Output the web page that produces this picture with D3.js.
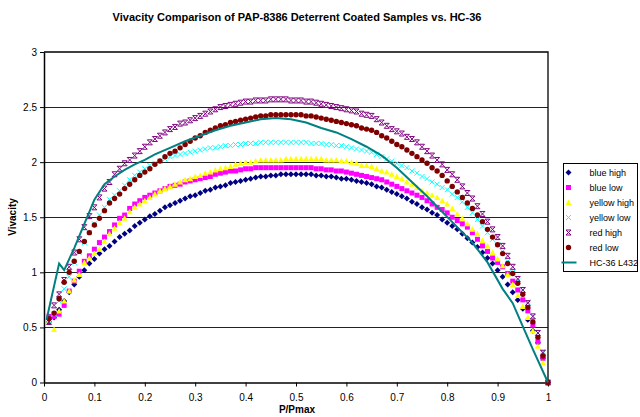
<!DOCTYPE html>
<html>
<head>
<meta charset="utf-8">
<script src="https://cdn.jsdelivr.net/npm/d3@7"></script>
<style>
	body { margin: 0; background: #fff; }
	text { font-family: "Liberation Sans", Arial, sans-serif; }
</style>
</head>
<body>
<script>
// P/Pmax sample points
let xVals = [0.01, 0.02, 0.03, 0.04, 0.05, 0.06, 0.07, 0.08, 0.09, 0.10,
	0.11, 0.12, 0.13, 0.14, 0.15, 0.16, 0.17, 0.18, 0.19, 0.20,
	0.21, 0.22, 0.23, 0.24, 0.25, 0.26, 0.27, 0.28, 0.29, 0.30,
	0.31, 0.32, 0.33, 0.34, 0.35, 0.36, 0.37, 0.38, 0.39, 0.40,
	0.41, 0.42, 0.43, 0.44, 0.45, 0.46, 0.47, 0.48, 0.49, 0.50,
	0.51, 0.52, 0.53, 0.54, 0.55, 0.56, 0.57, 0.58, 0.59, 0.60,
	0.61, 0.62, 0.63, 0.64, 0.65, 0.66, 0.67, 0.68, 0.69, 0.70,
	0.71, 0.72, 0.73, 0.74, 0.75, 0.76, 0.77, 0.78, 0.79, 0.80,
	0.81, 0.82, 0.83, 0.84, 0.85, 0.86, 0.87, 0.88, 0.89, 0.90,
	0.91, 0.92, 0.93, 0.94, 0.95, 0.96, 0.97, 0.98, 0.99, 1.00];

let blueHigh = [0.55, 0.59, 0.66, 0.74, 0.82, 0.89, 0.96, 1.02, 1.08, 1.12,
	1.17, 1.21, 1.24, 1.28, 1.32, 1.35, 1.38, 1.42, 1.45, 1.48,
	1.51, 1.53, 1.56, 1.59, 1.61, 1.63, 1.65, 1.67, 1.69, 1.70,
	1.72, 1.74, 1.75, 1.77, 1.78, 1.79, 1.81, 1.82, 1.83, 1.84,
	1.85, 1.86, 1.87, 1.87, 1.88, 1.88, 1.89, 1.89, 1.89, 1.89,
	1.89, 1.89, 1.89, 1.88, 1.88, 1.87, 1.87, 1.86, 1.85, 1.85,
	1.84, 1.83, 1.82, 1.81, 1.80, 1.78, 1.77, 1.75, 1.73, 1.71,
	1.69, 1.67, 1.64, 1.62, 1.59, 1.57, 1.54, 1.52, 1.48, 1.45,
	1.42, 1.39, 1.35, 1.31, 1.27, 1.23, 1.18, 1.13, 1.08, 1.02,
	0.96, 0.89, 0.82, 0.75, 0.67, 0.57, 0.47, 0.36, 0.22, 0];

let blueLow = [0.60, 0.60, 0.62, 0.70, 0.83, 0.92, 1.01, 1.10, 1.15, 1.21,
	1.27, 1.32, 1.37, 1.43, 1.49, 1.52, 1.58, 1.62, 1.65, 1.68,
	1.70, 1.72, 1.74, 1.76, 1.78, 1.79, 1.80, 1.82, 1.83, 1.84,
	1.85, 1.86, 1.87, 1.89, 1.90, 1.91, 1.92, 1.92, 1.93, 1.94,
	1.94, 1.95, 1.95, 1.95, 1.95, 1.95, 1.95, 1.95, 1.95, 1.95,
	1.95, 1.95, 1.95, 1.94, 1.94, 1.93, 1.93, 1.92, 1.92, 1.91,
	1.90, 1.89, 1.88, 1.87, 1.86, 1.85, 1.84, 1.82, 1.80, 1.78,
	1.76, 1.74, 1.72, 1.70, 1.68, 1.65, 1.62, 1.59, 1.57, 1.54,
	1.50, 1.47, 1.44, 1.41, 1.36, 1.30, 1.24, 1.19, 1.13, 1.09,
	1.05, 0.99, 0.92, 0.84, 0.75, 0.65, 0.52, 0.37, 0.22, 0];

let yellowHigh = [0.56, 0.48, 0.65, 0.74, 0.83, 0.93, 0.98, 1.09, 1.13, 1.17,
	1.21, 1.28, 1.35, 1.40, 1.45, 1.49, 1.55, 1.59, 1.62, 1.65,
	1.68, 1.71, 1.74, 1.76, 1.78, 1.80, 1.82, 1.84, 1.85, 1.87,
	1.88, 1.90, 1.91, 1.93, 1.94, 1.95, 1.96, 1.98, 1.99, 2.00,
	2.00, 2.01, 2.02, 2.02, 2.02, 2.02, 2.02, 2.03, 2.03, 2.03,
	2.03, 2.03, 2.03, 2.03, 2.03, 2.02, 2.02, 2.02, 2.01, 2.01,
	2.00, 1.99, 1.97, 1.97, 1.96, 1.94, 1.92, 1.91, 1.89, 1.87,
	1.85, 1.82, 1.80, 1.77, 1.74, 1.72, 1.70, 1.68, 1.65, 1.62,
	1.58, 1.53, 1.49, 1.44, 1.39, 1.35, 1.29, 1.24, 1.18, 1.12,
	1.06, 0.98, 0.89, 0.79, 0.69, 0.59, 0.47, 0.33, 0.18, 0];

let yellowLow = [0.56, 0.62, 0.74, 0.85, 0.96, 1.09, 1.18, 1.27, 1.36, 1.44,
	1.52, 1.59, 1.66, 1.70, 1.74, 1.79, 1.84, 1.88, 1.91, 1.94,
	1.97, 1.99, 2.01, 2.03, 2.05, 2.06, 2.07, 2.08, 2.09, 2.10,
	2.11, 2.12, 2.13, 2.13, 2.14, 2.15, 2.15, 2.16, 2.16, 2.17,
	2.17, 2.17, 2.18, 2.18, 2.18, 2.18, 2.18, 2.18, 2.18, 2.18,
	2.18, 2.18, 2.17, 2.17, 2.17, 2.16, 2.16, 2.15, 2.15, 2.14,
	2.13, 2.12, 2.11, 2.10, 2.09, 2.07, 2.05, 2.03, 2.01, 1.99,
	1.97, 1.95, 1.92, 1.90, 1.87, 1.85, 1.82, 1.80, 1.77, 1.75,
	1.71, 1.68, 1.64, 1.59, 1.54, 1.48, 1.42, 1.36, 1.30, 1.25,
	1.19, 1.10, 1.00, 0.92, 0.84, 0.73, 0.60, 0.45, 0.28, 0];

let redHigh = [0.55, 0.70, 0.80, 0.93, 1.05, 1.18, 1.30, 1.41, 1.51, 1.59,
	1.68, 1.76, 1.82, 1.89, 1.94, 1.99, 2.02, 2.06, 2.10, 2.14,
	2.18, 2.21, 2.24, 2.27, 2.30, 2.32, 2.35, 2.36, 2.38, 2.40,
	2.42, 2.44, 2.46, 2.48, 2.50, 2.51, 2.52, 2.53, 2.54, 2.55,
	2.55, 2.56, 2.56, 2.56, 2.57, 2.57, 2.57, 2.57, 2.56, 2.56,
	2.56, 2.55, 2.55, 2.54, 2.53, 2.52, 2.51, 2.50, 2.49, 2.48,
	2.47, 2.46, 2.44, 2.43, 2.42, 2.39, 2.36, 2.33, 2.30, 2.28,
	2.26, 2.23, 2.21, 2.18, 2.14, 2.10, 2.06, 2.02, 1.98, 1.93,
	1.89, 1.84, 1.78, 1.72, 1.67, 1.60, 1.53, 1.46, 1.39, 1.32,
	1.24, 1.15, 1.05, 0.94, 0.84, 0.72, 0.60, 0.45, 0.27, 0];

let redLow = [0.58, 0.63, 0.76, 0.91, 1.00, 1.10, 1.19, 1.28, 1.36, 1.43,
	1.49, 1.56, 1.63, 1.67, 1.71, 1.76, 1.80, 1.84, 1.88, 1.91,
	1.94, 1.98, 2.01, 2.05, 2.08, 2.10, 2.13, 2.16, 2.19, 2.22,
	2.24, 2.27, 2.29, 2.31, 2.33, 2.34, 2.36, 2.37, 2.38, 2.39,
	2.40, 2.41, 2.42, 2.42, 2.43, 2.43, 2.43, 2.43, 2.43, 2.43,
	2.43, 2.42, 2.42, 2.41, 2.40, 2.39, 2.38, 2.37, 2.36, 2.35,
	2.34, 2.33, 2.31, 2.30, 2.29, 2.27, 2.24, 2.22, 2.19, 2.16,
	2.14, 2.11, 2.08, 2.05, 2.02, 1.99, 1.95, 1.92, 1.88, 1.83,
	1.78, 1.73, 1.68, 1.63, 1.58, 1.52, 1.46, 1.39, 1.32, 1.25,
	1.17, 1.08, 0.99, 0.90, 0.80, 0.68, 0.55, 0.41, 0.24, 0];

// HC-36 L432 reference curve
let hcX = [0.005, 0.03, 0.04, 0.06, 0.08, 0.10, 0.12, 0.14, 0.16, 0.18,
	0.20, 0.22, 0.25, 0.28, 0.31, 0.34, 0.37, 0.40, 0.43, 0.46,
	0.49, 0.52, 0.55, 0.58, 0.61, 0.64, 0.67, 0.70, 0.73, 0.76,
	0.79, 0.82, 0.85, 0.88, 0.91, 0.93, 0.95, 0.97, 1.00];
let hcY = [0.57, 1.08, 1.02, 1.22, 1.44, 1.66, 1.80, 1.87, 1.93, 1.98,
	2.02, 2.07, 2.13, 2.19, 2.24, 2.29, 2.33, 2.36, 2.39, 2.40,
	2.39, 2.36, 2.31, 2.27, 2.21, 2.14, 2.06, 1.95, 1.82, 1.69,
	1.55, 1.41, 1.27, 1.09, 0.85, 0.72, 0.51, 0.30, 0];

let xTicks = [0, 0.1, 0.2, 0.3, 0.4, 0.5, 0.6, 0.7, 0.8, 0.9, 1];
let yTicks = [0, 0.5, 1, 1.5, 2, 2.5, 3];

let width = 640;
let height = 417;
let plot = {left: 44, right: 548, top: 52, bottom: 382.5};

let x = d3.scaleLinear().domain([0, 1]).range([plot.left, plot.right]);
let y = d3.scaleLinear().domain([0, 3]).range([plot.bottom, plot.top]);

// marker shapes, roughly the excel ones
let markers = {
	diamond: "M0,-3L3,0L0,3L-3,0Z",
	square: "M-2.5,-2.5H2.5V2.5H-2.5Z",
	triangle: "M0,-3L3,2.5H-3Z",
	cross: "M-2.5,-2.5L2.5,2.5M-2.5,2.5L2.5,-2.5",
	star: "M-2.5,-2.5L2.5,2.5M-2.5,2.5L2.5,-2.5M-2.5,-2.5H2.5M-2.5,2.5H2.5",
	circle: "M2.7,0A2.7,2.7 0 1,1 -2.7,0A2.7,2.7 0 1,1 2.7,0Z"
};

let series = [
	{name: "blue high", values: blueHigh, shape: "diamond", color: "#000080", filled: true},
	{name: "blue low", values: blueLow, shape: "square", color: "#ff00ff", filled: true},
	{name: "yellow high", values: yellowHigh, shape: "triangle", color: "#ffff00", filled: true},
	{name: "yellow low", values: yellowLow, shape: "cross", color: "#00ffff", filled: false},
	{name: "red high", values: redHigh, shape: "star", color: "#800080", filled: false},
	{name: "red low", values: redLow, shape: "circle", color: "#800000", filled: true}
];
let hcColor = "#008080";

let svg = d3.select("body").append("svg")
	.attr("width", width)
	.attr("height", height);

// gridlines
svg.selectAll(".grid")
	.data(yTicks.filter(d => d > 0 && d < 3))
	.join("line")
	.attr("class", "grid")
	.attr("x1", plot.left)
	.attr("x2", plot.right)
	.attr("y1", d => Math.round(y(d)) + 0.5)
	.attr("y2", d => Math.round(y(d)) + 0.5)
	.attr("stroke", "#222")
	.attr("stroke-width", 1);

// top and right border of plot area
svg.append("path")
	.attr("d", `M${plot.left},${y(3)}H${plot.right}V${plot.bottom}`)
	.attr("fill", "none")
	.attr("stroke", "#000")
	.attr("stroke-width", 1.3);

// axes
let fmt = d => d3.format("")(d);
let yAxis = svg.append("g")
	.attr("transform", `translate(${plot.left},0)`)
	.call(d3.axisLeft(y).tickValues(yTicks).tickSize(4).tickSizeOuter(0).tickFormat(fmt));
let xAxis = svg.append("g")
	.attr("transform", `translate(0,${plot.bottom})`)
	.call(d3.axisBottom(x).tickValues(xTicks).tickSize(4).tickSizeOuter(0).tickFormat(fmt));

[xAxis, yAxis].forEach(g => {
	g.select(".domain").attr("stroke", "#000").attr("stroke-width", 1.5);
	g.selectAll(".tick line").attr("stroke", "#000");
	g.selectAll(".tick text")
		.attr("fill", "#000")
		.style("font-family", "'Liberation Sans', Arial, sans-serif")
		.style("font-size", "10px");
});
yAxis.selectAll(".tick text").attr("x", -7);
xAxis.selectAll(".tick text").attr("y", 11);

// sample markers
series.forEach(s => {
	svg.append("g")
		.selectAll("path")
		.data(xVals.map((xv, i) => ({x: xv, v: s.values[i]})))
		.join("path")
		.attr("transform", d => `translate(${x(d.x)},${y(d.v)})`)
		.attr("d", markers[s.shape])
		.attr("fill", s.filled ? s.color : "none")
		.attr("stroke", s.filled ? "none" : s.color)
		.attr("stroke-width", 1);
});

// HC-36 line
let line = d3.line()
	.x(d => x(d[0]))
	.y(d => y(d[1]));
svg.append("path")
	.datum(hcX.map((xv, i) => [xv, hcY[i]]))
	.attr("d", line)
	.attr("fill", "none")
	.attr("stroke", hcColor)
	.attr("stroke-width", 2);

// titles
svg.append("text")
	.attr("x", 297)
	.attr("y", 21)
	.attr("text-anchor", "middle")
	.style("font-size", "11px")
	.style("font-weight", "bold")
	.text("Vivacity Comparison of PAP-8386 Deterrent Coated Samples vs. HC-36");

svg.append("text")
	.attr("x", 297)
	.attr("y", 413)
	.attr("text-anchor", "middle")
	.style("font-size", "10px")
	.style("font-weight", "bold")
	.text("P/Pmax");

svg.append("text")
	.attr("transform", "translate(16,217) rotate(-90)")
	.attr("text-anchor", "middle")
	.style("font-size", "10px")
	.style("font-weight", "bold")
	.text("Vivacity");

// legend
let legend = svg.append("g").attr("transform", "translate(563.5,163.5)");
legend.append("rect")
	.attr("width", 74)
	.attr("height", 108)
	.attr("fill", "#fff")
	.attr("stroke", "#000")
	.attr("stroke-width", 1);

let legendItems = series.map(s => ({name: s.name, shape: s.shape, color: s.color, filled: s.filled}))
	.concat([{name: "HC-36 L432", shape: null, color: hcColor}]);

let rows = legend.selectAll(".item")
	.data(legendItems)
	.join("g")
	.attr("class", "item")
	.attr("transform", (d, i) => `translate(0,${9 + i * 15})`);

rows.filter(d => d.shape)
	.append("path")
	.attr("transform", "translate(5,0)")
	.attr("d", d => markers[d.shape])
	.attr("fill", d => d.filled ? d.color : "none")
	.attr("stroke", d => d.filled ? "none" : d.color);

rows.filter(d => !d.shape)
	.append("line")
	.attr("x1", -2).attr("x2", 13)
	.attr("stroke", d => d.color)
	.attr("stroke-width", 2);

rows.append("text")
	.attr("x", 26)
	.attr("y", 3)
	.style("font-size", "9px")
	.text(d => d.name);
</script>
</body>
</html>
